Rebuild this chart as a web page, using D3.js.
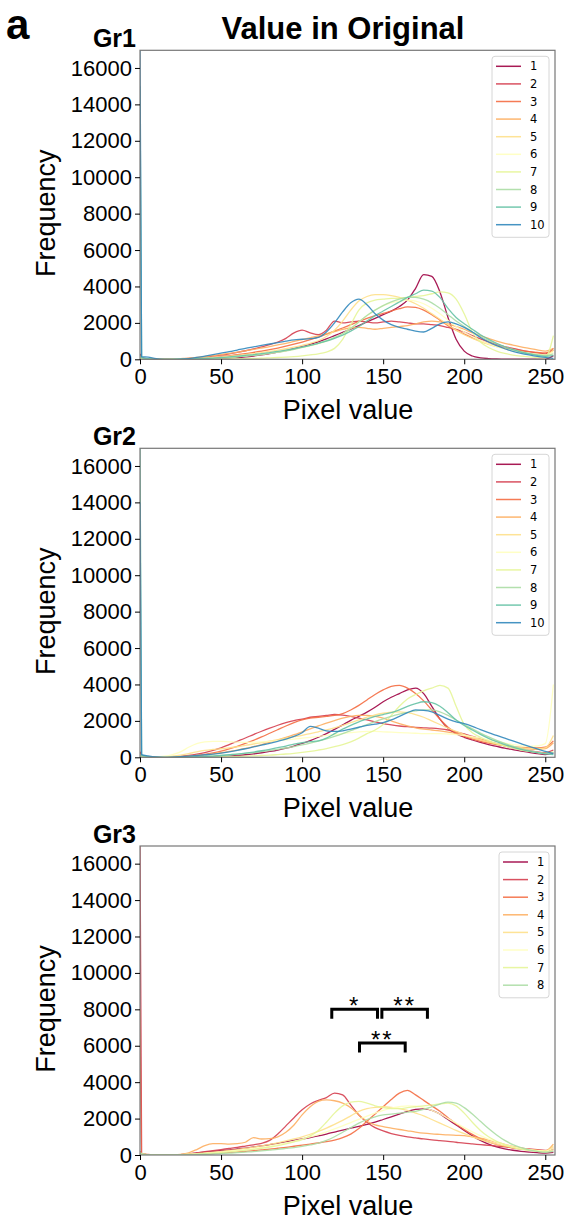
<!DOCTYPE html>
<html>
<head>
<meta charset="utf-8">
<script src="https://cdn.jsdelivr.net/npm/d3@7"></script>
<style>
  body { margin: 0; background: #fff; }
  svg text { font-family: "Liberation Sans", Arial, Helvetica, sans-serif; }
</style>
</head>
<body>
<div id="chart"></div>
<script>
const pixelValues = [0, 1, 5, 10, 15, 20, 25, 30, 35, 40, 45, 50, 55, 60, 65, 70, 75, 80, 85, 90,
  95, 100, 105, 110, 115, 120, 125, 130, 135, 140, 145, 150, 155, 160, 165, 170, 175, 180, 185,
  190, 195, 200, 205, 210, 215, 220, 225, 230, 235, 240, 245, 250, 255];

const xTicks = [0, 50, 100, 150, 200, 250];
const yTicks = [0, 2000, 4000, 6000, 8000, 10000, 12000, 14000, 16000];
const seriesLabels = ["1", "2", "3", "4", "5", "6", "7", "8", "9", "10"];
const panelNames = ["Gr1", "Gr2", "Gr3"];

const gr1Counts = [
  [300,50,20, 0,0,0,0,0,0,10,20,40, 60,90,130,180,240,310,390,480,580,690, 820,960,1120,1300,1480,1660,1850,2050,2250,2450, 2650,2900,3250,3900,4650,4550,3700,2300,1100,450, 180,80,40,20,10,10,5,5,5,5, 200],
  [200,80,30, 10,10,20,30,50,80,120,170,230, 300,380,470,570,680,800,950,1150,1450,1600, 1450,1350,1600,2100,2000,2050,2100,2050,2000,2050, 2100,2050,2000,1950,1950,1900,1850,1750,1650,1500, 1300,1120,960,820,700,600,500,420,350,300, 600],
  [150,60,20, 10,10,10,20,30,50,80,110,150, 200,250,310,380,450,530,620,720,830,950, 1080,1220,1380,1550,1720,1900,2080,2250,2400,2520, 2650,2780,2880,2850,2700,2450,2150,1850,1600,1380, 1180,1000,850,720,620,540,470,420,380,350, 500],
  [150,60,20, 10,10,20,40,60,100,150,200,260, 320,390,460,540,620,700,790,880,980,1080, 1180,1280,1400,1520,1640,1720,1750,1700,1650,1700, 1750,1800,1850,1950,2050,2100,2050,1950,1800,1650, 1450,1300,1150,1000,880,780,680,600,520,450, 600],
  [100,40,10, 0,0,10,20,30,50,70,100,130, 170,210,260,310,370,430,500,580,670,770, 880,1020,1250,1600,2100,2700,3200,3450,3550,3550, 3500,3400,3250,3050,2800,2500,2200,1900,1600,1350, 1150,970,820,690,580,480,400,330,280,240, 500],
  [100,40,10, 0,0,0,10,20,30,50,70,90, 120,150,190,230,280,340,400,470,550,640, 740,860,1000,1180,1400,1700,2050,2400,2700,2950, 3100,3200,3250,3200,3050,2800,2500,2150,1800,1500, 1250,1030,850,700,570,460,370,300,250,220, 400],
  [100,30,10, 0,0,0,0,0,0,0,10,10, 20,30,40,50,60,80,100,120,150,190, 240,300,400,600,1100,1900,2700,3100,3250,3300, 3350,3350,3400,3450,3500,3600,3700,3650,3300,2500, 1500,950,650,450,320,230,170,130,100,80, 1300],
  [200,80,20, 0,0,0,10,10,20,30,50,70, 100,130,170,210,260,320,390,460,550,650, 760,880,1020,1200,1420,1700,2050,2400,2700,2950, 3150,3300,3400,3400,3300,3100,2800,2450,2100,1800, 1500,1250,1030,840,680,540,420,330,260,210, 300],
  [15000,100,30, 0,0,0,10,20,30,50,70,100, 130,170,210,260,310,370,430,500,580,670, 770,880,1000,1150,1330,1550,1800,2100,2400,2650, 2900,3150,3400,3600,3800,3750,3400,2800,2300,1950, 1650,1350,1100,880,690,530,400,300,220,160, 200],
  [16970,150,120, 30,0,0,10,40,100,180,260,340, 420,510,600,680,760,840,920,1000,1070,1100, 1130,1200,1500,2000,2600,3100,3300,3000,2500,2150, 1900,1750,1650,1550,1500,1700,1950,2050,1950,1750, 1500,1200,950,750,580,440,330,240,160,100, 50]
];

const gr2Counts = [
  [300,60,20, 0,0,0,0,0,0,10,20,40, 60,100,140,190,250,320,400,500,620,760, 920,1100,1300,1530,1780,2030,2250,2480,2750,3050, 3300,3500,3700,3800,3500,2800,2100,1600,1300,1100, 950,820,700,600,500,420,340,270,200,150, 250],
  [300,60,20, 0,0,20,50,100,170,260,380,520, 700,880,1060,1250,1430,1600,1760,1900,2020,2100, 2200,2250,2300,2350,2320,2250,2150,2050,1950,1850, 1780,1720,1680,1640,1620,1600,1560,1500,1400,1280, 1150,1020,880,750,630,520,430,360,300,260, 400],
  [200,60,20, 0,0,10,30,60,100,160,240,340, 460,600,760,930,1120,1320,1520,1720,1900,2050, 2150,2200,2250,2300,2400,2600,2850,3150,3450,3700, 3900,3950,3800,3500,3100,2600,2100,1650,1350,1150, 1000,880,780,700,640,590,550,520,520,560, 900],
  [150,50,20, 0,0,10,30,60,100,140,190,250, 320,400,490,590,700,820,950,1090,1240,1400, 1560,1720,1880,2020,2150,2250,2300,2300,2250,2150, 2000,1850,1720,1620,1550,1500,1450,1380,1300,1200, 1080,960,840,730,630,550,490,450,440,480, 800],
  [100,40,20, 10,20,60,120,200,300,380,430,470, 520,580,650,730,810,890,970,1050,1130,1210, 1300,1400,1500,1620,1750,1900,2050,2200,2330,2420, 2480,2500,2450,2350,2200,2000,1800,1600,1420,1250, 1100,970,850,750,660,590,530,490,480,520, 1200],
  [100,40,20, 20,60,150,300,550,750,850,880,870, 850,830,820,830,850,880,920,960,1000,1050, 1100,1150,1200,1250,1300,1350,1400,1420,1420,1400, 1380,1360,1340,1320,1300,1300,1300,1280,1250,1200, 1130,1050,960,870,780,700,640,600,620,750, 4000],
  [100,30,10, 0,0,0,0,0,10,10,20,30, 40,50,60,80,100,120,150,180,220,270, 330,400,480,580,700,850,1050,1300,1500,1800, 2300,2800,3200,3450,3650,3800,3950,3800,2800,1800, 1350,1100,900,750,620,500,400,320,260,220, 300],
  [150,50,20, 0,0,0,10,20,30,50,70,100, 130,170,210,260,310,370,440,510,590,680, 780,890,1010,1150,1300,1460,1630,1800,1960,2110, 2250,2370,2470,2550,2600,2600,2500,2300,2050,1800, 1560,1330,1120,930,760,610,480,370,280,210, 250],
  [16970,120,40, 10,0,0,10,20,30,50,70,100, 140,180,230,290,360,440,530,620,720,800, 860,900,1050,1300,1550,1750,1950,2100,2250,2350, 2450,2600,2800,2950,3050,3000,2800,2450,2050,1750, 1500,1260,1040,860,700,560,440,340,260,190, 150],
  [14000,150,80, 20,0,10,30,60,100,140,180,230, 300,380,470,570,670,770,880,1000,1150,1350, 1700,1600,1450,1420,1450,1550,1650,1750,1820,1900, 2050,2250,2450,2600,2580,2500,2300,2100,1950,1850, 1700,1520,1350,1200,1050,900,750,600,460,330, 200]
];

const gr3Counts = [
  [200,50,20, 0,0,0,20,60,110,160,200,240, 280,330,380,440,500,570,640,720,800,880, 960,1050,1150,1260,1370,1470,1570,1680,1800,1950, 2100,2250,2400,2500,2530,2450,2250,1950,1650,1350, 1050,800,600,450,340,260,200,160,130,110, 150],
  [16970,60,20, 0,0,0,20,60,120,180,240,300, 360,420,490,560,640,800,1150,1600,2050,2480, 2800,3000,3150,3400,3300,2750,2200,1800,1500,1320, 1180,1080,1000,940,880,830,790,750,700,650, 610,570,530,490,450,410,370,330,290,250, 300],
  [8000,80,30, 10,0,10,10,20,40,60,80,110, 140,170,200,240,280,320,370,420,480,540, 600,660,730,820,950,1150,1450,1850,2250,2650, 3050,3400,3550,3300,3000,2700,2400,2050,1700,1400, 1130,900,720,580,470,380,320,280,250,240, 400],
  [200,60,20, 0,0,10,40,120,300,520,620,620, 600,620,700,950,880,900,1000,1250,1650,2200, 2650,2950,3030,2980,2850,2600,2200,1850,1650,1560, 1480,1400,1330,1260,1200,1160,1130,1100,1080,1060, 1000,920,820,700,580,470,380,310,260,230, 600],
  [150,50,20, 0,0,10,20,40,70,110,150,200, 250,300,360,430,500,580,670,770,880,1000, 1140,1300,1480,1680,1900,2150,2400,2550,2620,2650, 2620,2550,2450,2300,2150,1950,1750,1550,1350,1170, 1000,850,720,600,500,410,340,280,240,220, 500],
  [150,50,20, 0,0,10,20,40,60,90,120,160, 200,250,300,360,420,490,570,660,760,870, 990,1120,1270,1430,1600,1780,1960,2140,2300,2450, 2570,2650,2700,2680,2600,2450,2250,2000,1750,1500, 1270,1060,870,710,570,450,360,290,240,210, 400],
  [150,50,20, 0,0,10,20,30,50,70,100,130, 170,210,260,310,370,440,520,610,720,850, 1050,1350,1800,2300,2700,2900,2950,2850,2700,2600, 2550,2550,2600,2650,2700,2750,2800,2850,2700,2300, 1800,1350,1000,750,560,420,320,250,200,170, 300],
  [150,60,20, 0,0,0,10,20,30,40,60,80, 100,130,160,190,230,270,310,360,410,470, 550,650,800,1000,1250,1500,1750,1950,2100,2200, 2250,2300,2350,2400,2500,2650,2800,2900,2850,2600, 2250,1850,1450,1100,800,570,400,280,200,150, 200]
];

// significance brackets on Gr3: pixel-value span, bracket height (count), label
const bracketStart = [118.3, 149.2, 135.4];
const bracketEnd = [146.5, 177.3, 163.6];
const bracketLevel = [8000, 8000, 6150];
const bracketLabels = ["*", "**", "**"];

const spectral = ["#9e0142", "#d53e4f", "#f46d43", "#fdae61", "#fee08b",
  "#ffffbf", "#e6f598", "#abdda4", "#66c2a5", "#3288bd"];

const width = 574, height = 1222;
const plotLeft = 140, plotRight = 555;
const plotBottoms = [359.3, 757.3, 1155];
const plotHeight = 309;
const yMax = 16970;

var svg = d3.select("#chart")
  .append("svg")
  .attr("width", width)
  .attr("height", height);

var x = d3.scaleLinear().domain([0, 256]).range([plotLeft, plotRight]);

svg.append("text")
  .attr("x", 6)
  .attr("y", 39)
  .style("font-size", "42px")
  .style("font-weight", "bold")
  .text("a");

svg.append("text")
  .attr("x", 343)
  .attr("y", 39)
  .attr("text-anchor", "middle")
  .style("font-size", "31px")
  .style("font-weight", "bold")
  .text("Value in Original");

[gr1Counts, gr2Counts, gr3Counts].forEach(function(counts, p) {
  drawPanel(counts, p);
});

function drawPanel(counts, p) {
  var bottom = plotBottoms[p];
  var top = bottom - plotHeight;
  var y = d3.scaleLinear().domain([0, yMax]).range([bottom, top]);

  var g = svg.append("g");

  g.append("defs")
    .append("clipPath")
    .attr("id", "clip" + p)
    .append("rect")
    .attr("x", plotLeft)
    .attr("y", top)
    .attr("width", plotRight - plotLeft)
    .attr("height", plotHeight);

  var line = d3.line()
    .x(function(d, i) { return x(pixelValues[i]); })
    .y(function(d) { return y(d); })
    .curve(d3.curveMonotoneX);

  g.append("g")
    .attr("clip-path", "url(#clip" + p + ")")
    .selectAll("path")
    .data(counts)
    .enter()
    .append("path")
    .attr("d", line)
    .attr("fill", "none")
    .attr("stroke", function(d, i) { return spectral[i]; })
    .attr("stroke-width", 1.3)
    .attr("stroke-opacity", 0.9);

  // frame
  g.append("rect")
    .attr("x", plotLeft)
    .attr("y", top)
    .attr("width", plotRight - plotLeft)
    .attr("height", plotHeight)
    .attr("fill", "none")
    .attr("stroke", "#777")
    .attr("stroke-width", 1.2);

  var yAxis = g.append("g")
    .attr("transform", "translate(" + plotLeft + ",0)")
    .call(d3.axisLeft(y).tickValues(yTicks).tickFormat(d3.format("d")).tickSize(5).tickPadding(3));
  yAxis.select(".domain").remove();
  yAxis.selectAll("text").style("font-size", "22px").attr("fill", "#000");

  var xAxis = g.append("g")
    .attr("transform", "translate(0," + bottom + ")")
    .call(d3.axisBottom(x).tickValues(xTicks).tickFormat(d3.format("d")).tickSize(5).tickPadding(4));
  xAxis.select(".domain").remove();
  xAxis.selectAll("text").style("font-size", "22px").attr("fill", "#000");

  g.append("text")
    .attr("transform", "translate(55," + (top + 163) + ") rotate(-90)")
    .attr("text-anchor", "middle")
    .style("font-size", "27px")
    .text("Frequency");

  g.append("text")
    .attr("x", 348)
    .attr("y", bottom + 60)
    .attr("text-anchor", "middle")
    .style("font-size", "27px")
    .text("Pixel value");

  g.append("text")
    .attr("x", 136)
    .attr("y", top - 3)
    .attr("text-anchor", "end")
    .style("font-size", "25px")
    .style("font-weight", "bold")
    .text(panelNames[p]);

  // legend
  var labels = seriesLabels.slice(0, counts.length);
  var maxChars = d3.max(labels, function(d) { return d.length; });
  var boxRight = plotRight - 6;
  var textX = boxRight - 5 - maxChars * 7;
  var lineX2 = textX - 9;
  var lineX1 = lineX2 - 25;
  var rowStep = 17.6;
  var boxTop = top + 6;

  g.append("rect")
    .attr("x", lineX1 - 4)
    .attr("y", boxTop)
    .attr("width", boxRight - lineX1 + 4)
    .attr("height", labels.length * rowStep + 5)
    .attr("rx", 3)
    .attr("fill", "#fff")
    .attr("fill-opacity", 0.8)
    .attr("stroke", "#d6d6d6")
    .attr("stroke-width", 1);

  var legend = g.selectAll(".legend")
    .data(labels)
    .enter()
    .append("g")
    .attr("class", "legend")
    .attr("transform", function(d, i) {
      return "translate(0," + (boxTop + 10 + i * rowStep) + ")";
    });

  legend.append("line")
    .attr("x1", lineX1)
    .attr("x2", lineX2)
    .attr("stroke", function(d, i) { return spectral[i]; })
    .attr("stroke-width", 1.5)
    .attr("stroke-opacity", 0.9);

  legend.append("text")
    .attr("x", textX)
    .attr("dy", "0.35em")
    .style("font-family", "'DejaVu Sans', sans-serif")
    .style("font-size", "11.5px")
    .text(function(d) { return d; });

  if (p === 2) {
    var legDrop = 9.5;
    bracketLabels.forEach(function(label, i) {
      var x1 = x(bracketStart[i]), x2 = x(bracketEnd[i]), yy = y(bracketLevel[i]);
      g.append("path")
        .attr("d", "M" + x1 + "," + (yy + legDrop) + "V" + yy + "H" + x2 + "V" + (yy + legDrop))
        .attr("fill", "none")
        .attr("stroke", "#000")
        .attr("stroke-width", 3);
      g.append("text")
        .attr("x", (x1 + x2) / 2)
        .attr("y", yy + 5)
        .attr("text-anchor", "middle")
        .style("font-size", "24px")
        .style("letter-spacing", "2px")
        .text(label);
    });
  }
}
</script>
</body>
</html>
